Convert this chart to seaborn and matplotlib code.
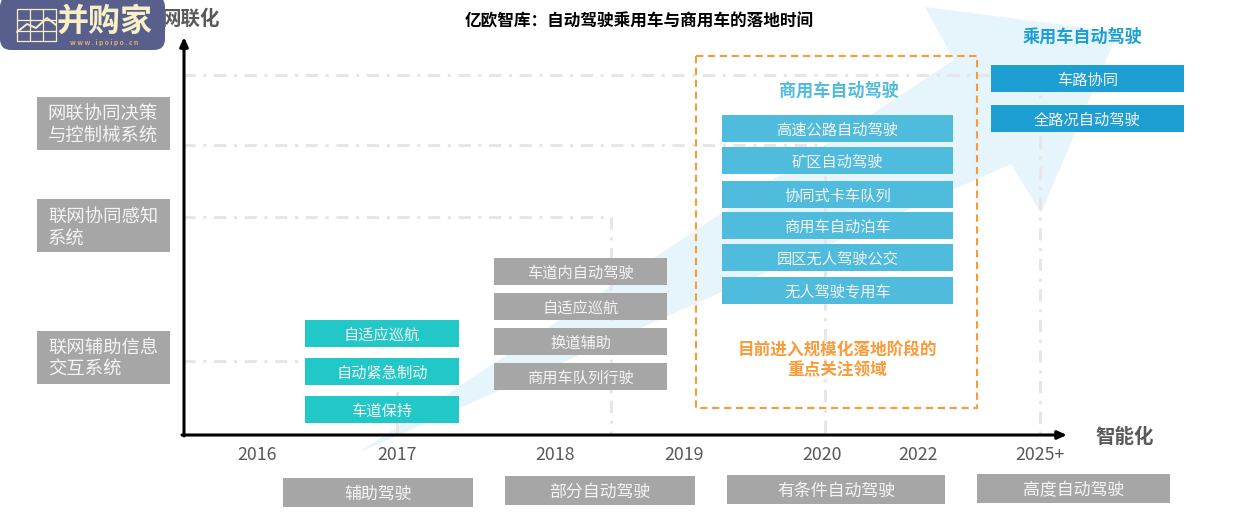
import matplotlib
matplotlib.use('Agg')
import matplotlib.pyplot as plt
import seaborn as sns
from matplotlib.patches import FancyBboxPatch, Polygon, Rectangle

sns.set_theme(style="white")
plt.rcParams['font.family'] = ['Noto Sans CJK SC', 'DejaVu Sans']

# Text content
title = '亿欧智库：自动驾驶乘用车与商用车的落地时间'
years = ['2016', '2017', '2018', '2019', '2020', '2022', '2025+']
network_levels = ['网联协同决策\n与控制械系统', '联网协同感知\n系统', '联网辅助信息\n交互系统']
stages = ['辅助驾驶', '部分自动驾驶', '有条件自动驾驶', '高度自动驾驶']
assist_items = ['自适应巡航', '自动紧急制动', '车道保持']
partial_items = ['车道内自动驾驶', '自适应巡航', '换道辅助', '商用车队列行驶']
truck_items = ['高速公路自动驾驶', '矿区自动驾驶', '协同式卡车队列', '商用车自动泊车', '园区无人驾驶公交', '无人驾驶专用车']
car_items = ['车路协同', '全路况自动驾驶']

# Layout in image pixels
year_x = [257, 397, 555, 684, 822, 918, 1040]
guide_x = [397, 611, 825, 1040]
guide_y = [361, 217, 145, 75]
network_tops = [97, 199, 331]
stage_boxes = [(283, 478, 190, 29), (505, 476, 190, 29), (727, 475, 218, 29), (977, 474, 193, 29)]
assist_tops = [320, 358, 396]
partial_tops = [258, 293, 328, 363]
truck_tops = [115, 147, 181, 212, 244, 277]
car_tops = [65, 105]
arrow_shape = [(358, 453), (954, 60), (925, 7), (1118, 32), (1041, 213), (1011, 164)]

GRAY = '#a6a6a6'
TEAL = '#22c7c7'
SKY = '#4fbbdd'
BLUE = '#1e9fd4'
ORANGE = '#fb9a38'
DARK = '#595959'
GUIDE = '#e6e6e6'
BOX_TEXT = '#f4f4f4'

fig = plt.figure(figsize=(12.35, 5.26), dpi=100)
ax = fig.add_axes([0, 0, 1, 1])


def boxes(tops, left, width, height, labels, color, size):
    ax.barh([t + height / 2 for t in tops], width, height=height, left=left, color=color,
            edgecolor='none', linewidth=0, zorder=4)
    for t, label in zip(tops, labels):
        ax.text(left + width / 2, t + height / 2 + 1.5, label, color=BOX_TEXT, fontsize=size,
                ha='center', va='center', zorder=5)


# Background arrow
ax.add_patch(Polygon(arrow_shape, closed=True, facecolor='#e6f4fb', edgecolor='none', zorder=1))

# Dash-dot guides
dash = (0, (4, 2.5, 1, 2.5))
for gx, gy in zip(guide_x, guide_y):
    sns.lineplot(x=[183, gx], y=[gy, gy], color=GUIDE, linewidth=2.2, linestyle=dash, ax=ax, zorder=2)
    sns.lineplot(x=[gx, gx], y=[435, gy], color=GUIDE, linewidth=2.2, linestyle=dash, ax=ax, zorder=2,
                 orient='y')

# Boxes
for t, label in zip(network_tops, network_levels):
    ax.add_patch(Rectangle((37, t), 133, 53, facecolor=GRAY, edgecolor='none', zorder=4))
ax.text(103, 125.5, network_levels[0], color=BOX_TEXT, fontsize=13.2, ha='center', va='center',
        linespacing=1.25, zorder=5)
ax.text(48, 228.5, network_levels[1], color=BOX_TEXT, fontsize=13.2, ha='left', va='center',
        linespacing=1.25, zorder=5)
ax.text(48, 359.5, network_levels[2], color=BOX_TEXT, fontsize=13.2, ha='left', va='center',
        linespacing=1.2, zorder=5)

boxes(assist_tops, 305, 154, 27, assist_items, TEAL, 11)
boxes(partial_tops, 494, 173, 27, partial_items, GRAY, 11)
boxes(truck_tops, 722, 231, 27, truck_items, SKY, 11)
boxes(car_tops, 991, 193, 27, car_items, BLUE, 11)

for (x0, y0, w, h), label in zip(stage_boxes, stages):
    boxes([y0], x0, w, h, [label], GRAY, 12.2)

# Orange dashed frame
ax.add_patch(Rectangle((696, 56), 281, 352, facecolor='none', edgecolor=ORANGE, linewidth=1.5,
                       linestyle=(0, (3.5, 2.2)), zorder=6))
ax.text(837, 360, '目前进入规模化落地阶段的\n重点关注领域', color=ORANGE, fontsize=12, fontweight='bold',
        ha='center', va='center', linespacing=1.12, zorder=6)
ax.text(839, 91, '商用车自动驾驶', color=SKY, fontsize=12.3, fontweight='bold', ha='center', va='center', zorder=6)
ax.text(1083, 36.5, '乘用车自动驾驶', color=BLUE, fontsize=12.3, fontweight='bold', ha='center', va='center', zorder=6)

# Main axes arrows
ax.annotate('', xy=(184, 37), xytext=(184, 436), zorder=7,
            arrowprops=dict(arrowstyle='-|>,head_width=0.2,head_length=0.45', color='black', lw=2.2,
                            shrinkA=0, shrinkB=0))
ax.annotate('', xy=(1067, 435), xytext=(182, 435), zorder=7,
            arrowprops=dict(arrowstyle='-|>,head_width=0.2,head_length=0.45', color='black', lw=2.2,
                            shrinkA=0, shrinkB=0))

for x, year in zip(year_x, years):
    ax.text(x, 455.5, year, color=DARK, fontsize=12.8, ha='center', va='center', zorder=6)

ax.text(191, 19, '网联化', color=DARK, fontsize=14, fontweight='bold', ha='center', va='center', zorder=6)
ax.text(1125, 437, '智能化', color=DARK, fontsize=14, fontweight='bold', ha='center', va='center', zorder=6)
ax.text(639, 21.5, title, color='black', fontsize=12, fontweight='bold', ha='center', va='center', zorder=6)

# Logo
ax.add_patch(FancyBboxPatch((0, -4), 165, 54, boxstyle='round,pad=0,rounding_size=11',
                            facecolor='#585f8d', edgecolor='none', zorder=8))
CREAM = '#f6f0c4'
for gx in [17, 30, 43, 56]:
    ax.plot([gx, gx], [9, 41], color=CREAM, lw=0.9, zorder=9)
for gy in [9, 20, 31, 41]:
    ax.plot([17, 56], [gy, gy], color=CREAM, lw=0.9, zorder=9)
ax.plot([17, 27, 36, 47, 56], [32, 24, 28, 18, 25], color=CREAM, lw=1.4, zorder=9)
ax.text(105, 22, '并购家', color=CREAM, fontsize=23, fontweight='bold', ha='center', va='center', zorder=9)
ax.text(104, 42, 'w w w . i p o i p o . c n', color='#d8b46a', fontsize=4.8, fontweight='bold',
        ha='center', va='center', zorder=9)

ax.set_xlim(0, 1235)
ax.set_ylim(526, 0)
ax.set_axis_off()

fig.savefig('out.png', dpi=100)
